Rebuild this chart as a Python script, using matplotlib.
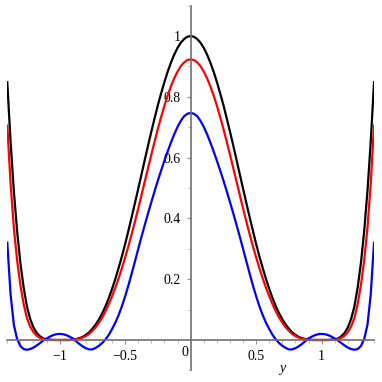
import matplotlib.pyplot as plt
from matplotlib.ticker import MultipleLocator

plt.rcParams['font.family'] = ['Liberation Serif', 'DejaVu Serif']

# the three curves are symmetric in y, so values are read for y >= 0
# (y = 0, 0.025, ..., 1.4) and mirrored for the left half
y_half = [0.0, 0.025, 0.05, 0.075, 0.1, 0.125, 0.15, 0.175, 0.2, 0.225,
          0.25, 0.275, 0.3, 0.325, 0.35, 0.375, 0.4, 0.425, 0.45, 0.475,
          0.5, 0.525, 0.55, 0.575, 0.6, 0.625, 0.65, 0.675, 0.7, 0.725,
          0.75, 0.775, 0.8, 0.825, 0.85, 0.875, 0.9, 0.925, 0.95, 0.975,
          1.0, 1.025, 1.05, 1.075, 1.1, 1.125, 1.15, 1.175, 1.2, 1.225,
          1.25, 1.275, 1.3, 1.325, 1.35, 1.375, 1.4]

black_half = [1.000, 0.9975, 0.990, 0.978, 0.961, 0.939, 0.913, 0.883, 0.849, 0.812,
              0.773, 0.730, 0.686, 0.640, 0.593, 0.545, 0.498, 0.451, 0.405, 0.360,
              0.316, 0.275, 0.237, 0.201, 0.168, 0.138, 0.111, 0.088, 0.068, 0.051,
              0.037, 0.025, 0.017, 0.010, 0.006, 0.003, 0.001, 0.000, 0.000, 0.000,
              0.000, 0.000, 0.000, 0.001, 0.002, 0.005, 0.012, 0.023, 0.041, 0.069,
              0.110, 0.172, 0.253, 0.358, 0.490, 0.652, 0.848]

red_half = [0.923, 0.921, 0.913, 0.901, 0.883, 0.861, 0.835, 0.805, 0.771, 0.734,
            0.695, 0.653, 0.610, 0.566, 0.522, 0.477, 0.433, 0.390, 0.349, 0.309,
            0.272, 0.236, 0.203, 0.172, 0.144, 0.118, 0.095, 0.074, 0.057, 0.042,
            0.030, 0.020, 0.013, 0.008, 0.004, 0.002, 0.001, 0.000, 0.000, 0.000,
            0.000, 0.000, 0.000, 0.000, 0.001, 0.003, 0.007, 0.014, 0.026, 0.044,
            0.072, 0.118, 0.180, 0.262, 0.368, 0.515, 0.705]

blue_half = [0.747, 0.744, 0.736, 0.721, 0.701, 0.677, 0.650, 0.621, 0.590, 0.558,
             0.525, 0.490, 0.454, 0.417, 0.379, 0.340, 0.300, 0.259, 0.219, 0.180,
             0.144, 0.111, 0.082, 0.057, 0.036, 0.017, 0.002, -0.010, -0.019, -0.026,
             -0.031, -0.031, -0.027, -0.021, -0.013, -0.004, 0.005, 0.011, 0.016, 0.019,
             0.020, 0.019, 0.016, 0.011, 0.005, -0.002, -0.010, -0.018, -0.025, -0.030,
             -0.032, -0.030, -0.020, 0.003, 0.050, 0.150, 0.320]

y_pts = [-v for v in y_half[:0:-1]] + y_half
black_vals = black_half[:0:-1] + black_half
red_vals = red_half[:0:-1] + red_half
blue_vals = blue_half[:0:-1] + blue_half

x_ticks = [-1, -0.5, 0.5, 1]
x_tick_labels = ['\u22121', '\u22120.5', '0.5', '1']
y_ticks = [0.2, 0.4, 0.6, 0.8, 1.0]
y_tick_labels = ['0.2', '0.4', '0.6', '0.8', '1']

fig = plt.figure(figsize=(3.82, 3.82), dpi=100)
ax = fig.add_axes([0.0191, 0.0304, 0.960, 0.955])

ax.plot(y_pts, black_vals, color='black', lw=1.6)
ax.plot(y_pts, red_vals, color='#ff0000', lw=1.6)
ax.plot(y_pts, blue_vals, color='#0000ff', lw=1.6)

ax.set_xlim(-1.4, 1.4)
ax.set_ylim(-0.1, 1.1)

# axes cross at the origin
ax.spines['left'].set_position(('data', 0))
ax.spines['bottom'].set_position(('data', 0))
ax.spines['top'].set_visible(False)
ax.spines['right'].set_visible(False)
for s in ('left', 'bottom'):
    ax.spines[s].set_color('#707070')
    ax.spines[s].set_linewidth(1.2)

ax.set_xticks(x_ticks)
ax.set_xticklabels(x_tick_labels)
ax.set_yticks(y_ticks)
ax.set_yticklabels(y_tick_labels)
ax.xaxis.set_minor_locator(MultipleLocator(0.1))
ax.yaxis.set_minor_locator(MultipleLocator(0.1))
ax.tick_params(which='major', length=3, color='#909090', labelsize=10, pad=4)
ax.tick_params(which='minor', length=2, color='#b0b0b0')

ax.text(-0.02, -0.04, '0', ha='right', va='center', fontsize=10)
ax.text(0.7, -0.095, 'y', style='italic', ha='center', va='center', fontsize=10)

fig.savefig('out.png', dpi=100)
